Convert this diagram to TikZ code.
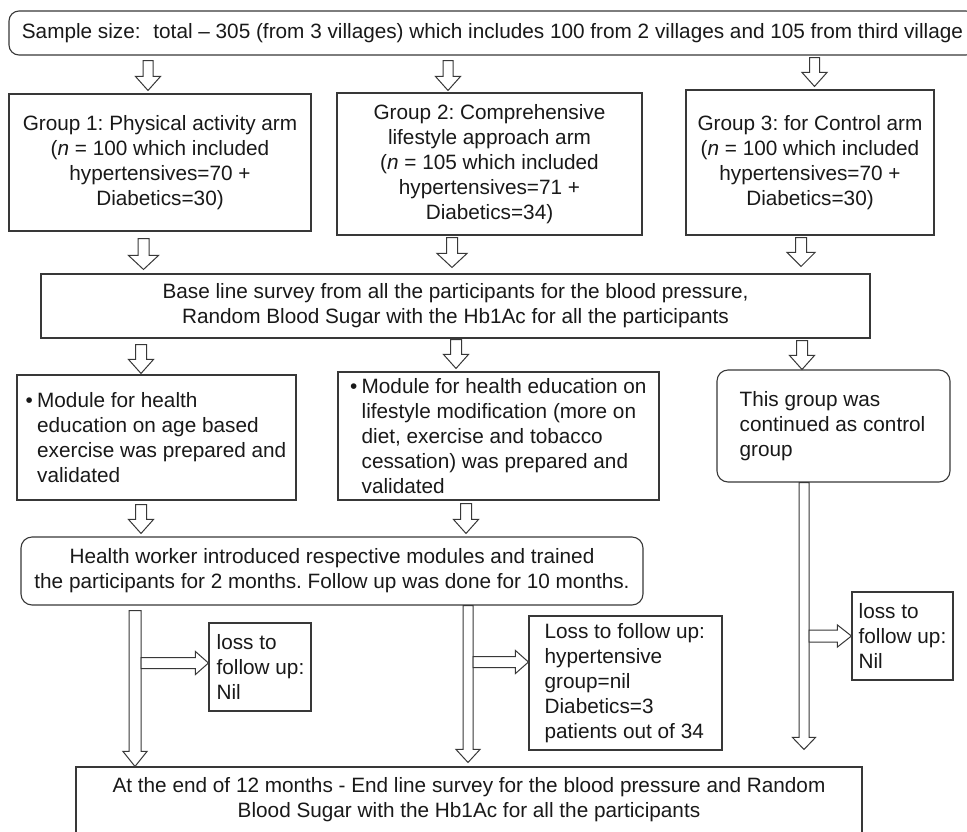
\documentclass[tikz,border=0pt]{standalone}
\usepackage{fontspec}
\setmainfont{Liberation Sans}
\usetikzlibrary{calc}
\frenchspacing
\colorlet{lc}{black!78}
\colorlet{tc}{black!90}
\newcommand\blkS{5pt}
\newcommand\blkH{12.5pt}
\newcommand\blkL{14pt}
\tikzset{
  ablk/.code args={#1/#2/#3}{\def\blkS{#1}\def\blkH{#2}\def\blkL{#3}},
  bdown/.style={draw=lc, fill=white, line width=1pt, line join=miter, to path={
    let \p1=(\tikztostart), \p2=(\tikztotarget) in
    (\x1-\blkS,\y1) -- (\x1-\blkS,\y2+\blkL) -- (\x1-\blkH,\y2+\blkL) -- (\x1,\y2)
    -- (\x1+\blkH,\y2+\blkL) -- (\x1+\blkS,\y2+\blkL) -- (\x1+\blkS,\y1) -- cycle}},
  bright/.style={draw=lc, fill=white, line width=1pt, line join=miter, to path={
    let \p1=(\tikztostart), \p2=(\tikztotarget) in
    (\x1,\y1+\blkS) -- (\x2-\blkL,\y1+\blkS) -- (\x2-\blkL,\y1+\blkH) -- (\x2,\y1)
    -- (\x2-\blkL,\y1-\blkH) -- (\x2-\blkL,\y1-\blkS) -- (\x1,\y1-\blkS) -- cycle}},
  box/.style={draw=lc, line width=1.1pt, inner sep=0pt, align=center, text=tc,
    font=\fontsize{20.75}{25}\selectfont},
  rbox/.style={box, rounded corners=11pt},
  txt/.style={inner sep=0pt, align=left, text=tc, anchor=west,
    font=\fontsize{20.75}{25}\selectfont},
}
\begin{document}
\begin{tikzpicture}[x=1pt,y=-1pt]
\useasboundingbox (0,0) rectangle (967,831);
\fill[white] (0,0) rectangle (967,831);
\clip (0,0) rectangle (967,831);

% boxes
\node[rbox, rounded corners=10pt, minimum width=967, minimum height=44] (top) at (492.5,33)
  {Sample size:\hspace{7pt} total -- 305 (from 3 villages) which includes 100 from 2 villages and 105 from third village};
\node[box, minimum width=302, minimum height=137] (g1) at (160,162.5)
  {Group 1: Physical activity arm\\(\textit{n} = 100 which included\\hypertensives=70 +\\Diabetics=30)};
\node[box, minimum width=305, minimum height=142] (g2) at (489.5,164)
  {Group 2: Comprehensive\\lifestyle approach arm\\(\textit{n} = 105 which included\\hypertensives=71 +\\Diabetics=34)};
\node[box, minimum width=248, minimum height=145] (g3) at (810,162.5)
  {Group 3: for Control arm\\(\textit{n} = 100 which included\\hypertensives=70 +\\Diabetics=30)};
\node[box, minimum width=829, minimum height=64] (base) at (455.5,306)
  {Base line survey from all the participants for the blood pressure,\\Random Blood Sugar with the Hb1Ac for all the participants};
\node[box, minimum width=279, minimum height=125] (m1) at (156.5,437.5) {};
\node[txt] (m1t) at ($(m1.west)+(20.5,0)$)
  {\llap{\makebox[11.5pt][l]{•}}Module for health\\education on age based\\exercise was prepared and\\validated};
\node[box, minimum width=321, minimum height=128] (m2) at (498.5,436) {};
\node[txt] (m2t) at ($(m2.west)+(24,0)$)
  {\llap{\makebox[11.5pt][l]{•}}Module for health education on\\lifestyle modification (more on\\diet, exercise and tobacco\\cessation) was prepared and\\validated};
\node[rbox, minimum width=233, minimum height=112] (ctl) at (833.5,426) {};
\node[txt] (ctlt) at ($(ctl.west)+(23,0)$) {This group was\\continued as control\\group};
\node[rbox, minimum width=622, minimum height=68] (hw) at (332,571)
  {Health worker introduced respective modules and trained\\the participants for 2 months. Follow up was done for 10 months.};
\node[box, minimum width=102, minimum height=88] (loss1) at (260,667) {};
\node[txt] (loss1t) at ($(loss1.west)+(8,0)$) {loss to\\follow up:\\Nil};
\node[box, minimum width=193, minimum height=134] (loss2) at (625.5,683) {};
\node[txt] (loss2t) at ($(loss2.west)+(16,0)$) {Loss to follow up:\\hypertensive\\group=nil\\Diabetics=3\\patients out of 34};
\node[box, minimum width=101, minimum height=88] (loss3) at (902.5,636) {};
\node[txt] (loss3t) at ($(loss3.west)+(7,0)$) {loss to\\follow up:\\Nil};
\node[box, minimum width=786, minimum height=66] (end) at (469,800)
  {At the end of 12 months - End line survey for the blood pressure and Random\\Blood Sugar with the Hb1Ac for all the participants};

% arrow columns
\coordinate (ka) at (148,0);
\coordinate (kb) at (448,0);
\coordinate (kc) at (814.5,0);
\coordinate (la) at (143.5,0);
\coordinate (lb) at (452,0);
\coordinate (lcc) at (801,0);
\coordinate (ma) at (141,0);
\coordinate (mb) at (456,0);
\coordinate (mc) at (802,0);
\coordinate (na) at (141,0);
\coordinate (nb) at (466,0);
\coordinate (pa) at (135,0);
\coordinate (pb) at (468,0);
\coordinate (pc) at (804,0);

% row 1
\draw[bdown, ablk=5pt/12.5pt/14pt] ($(top.south -| ka)+(0,5)$) to ($(g1.north -| ka)+(0,-3)$);
\draw[bdown, ablk=5pt/12.5pt/14pt] ($(top.south -| kb)+(0,5)$) to ($(g2.north -| kb)+(0,-2)$);
\draw[bdown, ablk=5pt/12.5pt/14pt] ($(top.south -| kc)+(0,2)$) to ($(g3.north -| kc)+(0,-3)$);
% row 2
\draw[bdown, ablk=5.5pt/15pt/14pt] ($(g1.south -| la)+(0,7)$) to ($(base.north -| la)+(0,-4)$);
\draw[bdown, ablk=5.5pt/15pt/14pt] ($(g2.south -| lb)+(0,2)$) to ($(base.north -| lb)+(0,-6)$);
\draw[bdown, ablk=5.5pt/14pt/14pt] ($(g3.south -| lcc)+(0,2)$) to ($(base.north -| lcc)+(0,-7)$);
% row 3
\draw[bdown, ablk=5.5pt/12.5pt/14pt] ($(base.south -| ma)+(0,6)$) to ($(m1.north -| ma)+(0,-1)$);
\draw[bdown, ablk=5.5pt/12.5pt/14pt] ($(base.south -| mb)+(0,1)$) to ($(m2.north -| mb)+(0,-3)$);
\draw[bdown, ablk=5.5pt/12.5pt/14pt] ($(base.south -| mc)+(0,2)$) to (ctl.north -| mc);
% row 4
\draw[bdown, ablk=5.5pt/12.5pt/14pt] ($(m1.south -| na)+(0,4)$) to ($(hw.north -| na)+(0,-3)$);
\draw[bdown, ablk=5.5pt/12.5pt/14pt] ($(m2.south -| nb)+(0,3)$) to ($(hw.north -| nb)+(0,-3)$);
% long arrows
\draw[bdown, ablk=6pt/12pt/15pt] ($(hw.south -| pa)+(0,5)$) to (end.north -| pa);
\draw[bdown, ablk=5pt/12pt/13pt] (hw.south -| pb) to ($(end.north -| pb)+(0,-4)$);
\draw[bdown, ablk=5pt/11.5pt/12pt] (ctl.south -| pc) to ($(end.north -| pc)+(0,-17)$);
% side arrows
\draw[bright, ablk=5.5pt/11.5pt/13pt] ($(loss1.west -| pa)+(6,-4)$) to ($(loss1.west)+(0,-4)$);
\draw[bright, ablk=5.5pt/11.5pt/13pt] ($(loss2.west -| pb)+(5,-21)$) to ($(loss2.west)+(0,-21)$);
\draw[bright, ablk=6pt/11pt/14pt] ($(loss3.west -| pc)+(5,0)$) to (loss3.west);
\end{tikzpicture}
\end{document}
